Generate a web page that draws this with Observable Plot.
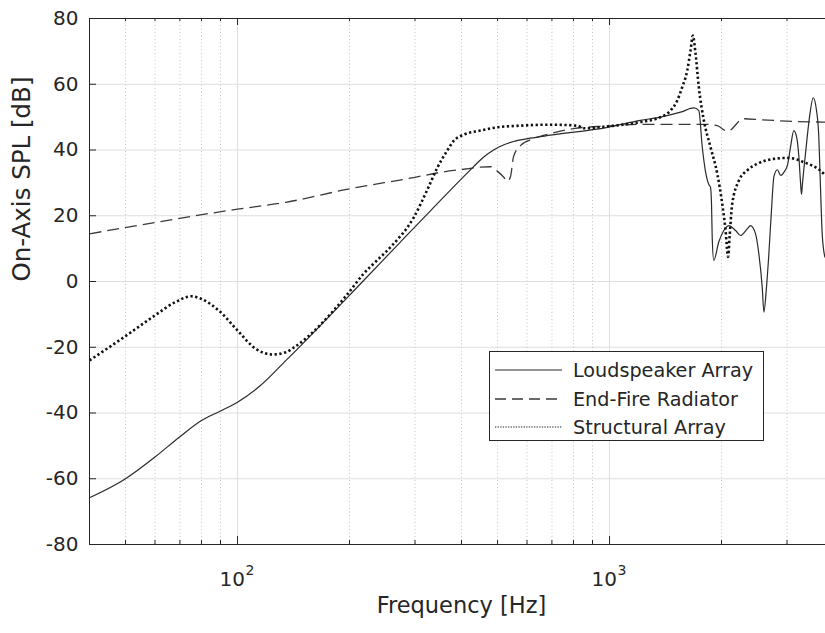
<!DOCTYPE html>
<html><head><meta charset="utf-8">
<script src="https://cdn.jsdelivr.net/npm/d3@7"></script>
<script src="https://cdn.jsdelivr.net/npm/@observablehq/plot@0.6"></script>
<style>
body{margin:0;background:#fff;}
#wrap{position:relative;width:825px;height:633px;overflow:hidden;background:#fff;font-family:"DejaVu Sans",sans-serif;}
#wrap svg.chart{max-width:none !important;}
#legend{position:absolute;left:489px;top:351px;}
</style></head><body><div id="wrap"></div>
<script>
// ---- data ----
const seriesNames = ["Loudspeaker Array", "End-Fire Radiator", "Structural Array"];

const lsFreq = [40,50,60,70,80,90,100,114,135,217,274,330,430,458,488,520,552,613,694,988,1211,1371,1552,1686,1738,1775,1811,1849,1868,1880,1888,1906,1966,2029,2093,2182,2250,2345,2393,2469,2520,2573,2600,2642,2681,2721,2767,2825,2884,2954,3010,3067,3128,3183,3228,3262,3281,3302,3364,3448,3528,3601,3652,3680,3732,3793];
const lsSPL  = [-65.8,-60.0,-53.4,-47.2,-42.3,-39.4,-36.7,-32.1,-24.0,0,12,21.5,34.8,37.8,40.0,41.6,42.6,43.6,44.5,46.9,49,50,51.5,52.8,52,41,33.5,29.5,28.7,23.6,13.5,6.4,12,15.5,17,15.5,14,16,17,14.5,8.4,-1.7,-9.3,-1.7,8.4,20.6,32,34,32.3,33.5,35.5,41,45.9,44,38,30,26.5,30,39,50,55.9,52,44,33,14,7.4];

const efFreq = [40,100,135,200,300,351,423,450,479,500,519,532,542,552,577,625,694,800,988,1211,1827,1948,2076,2292,2547,3760,3800];
const efSPL  = [14.5,22,24.1,28.2,31.7,33.2,34.4,34.8,34.9,33.5,31.8,30.5,32,38,41.4,43.5,45,46.5,47.3,47.8,47.8,47.4,45.7,49.5,49.2,48.5,48.5];

const stFreq = [40,50,60,68,75,80,89,100,112,124,135,142,197,218,237,258,298,324,344,366,382,406,450,499,576,694,819,853,988,1211,1371,1459,1520,1568,1618,1651,1675,1703,1738,1793,1868,1948,2009,2051,2083,2102,2137,2227,2345,2495,2761,3005,3327,3764,3800];
const stSPL  = [-24,-16.6,-10.3,-6.3,-4.5,-5.3,-8.8,-14.9,-20.5,-22.2,-21.5,-20,-4,2.3,6.4,10.5,19.6,28,34.5,39.8,42.9,44.7,45.9,46.9,47.4,47.7,47.4,46.6,47.2,48.5,50,52,55,59.1,64.2,70.3,74.8,69.3,59.1,49,40.9,32.8,23.6,15.5,7.5,13.5,23.6,30.7,33.8,35.8,37.3,37.6,36.3,32.8,32.3];

const xMajor = [100, 1000];
const xMajorBase = "10";
const xMajorExp = ["2", "3"];
const xMinor = [50,60,70,80,90,200,300,400,500,600,700,800,900,2000,3000];
const yTicks = [-80,-60,-40,-20,0,20,40,60,80];
const xDomain = [40, 4000];
const yDomain = [-80, 80];
const xLabel = "Frequency [Hz]";
const yLabel = "On-Axis SPL [dB]";

// ---- layout / style ----
const W = 834, H = 633, mL = 89, mT = 18, mB = 89, mR = 1;
const innerW = W - mL - mR, innerH = H - mT - mB;
const ink = "#262626";
const font = "'DejaVu Sans', sans-serif";

const toRows = (fs, vs) => fs.map((f, i) => ({f, v: vs[i]}));
const ls = toRows(lsFreq, lsSPL);
const ef = toRows(efFreq, efSPL);
const st = toRows(stFreq, stSPL);

const styles = {
  solid: {stroke: "#2a2a2a", strokeWidth: 1.2},
  dashed: {stroke: "#3a3a3a", strokeWidth: 1.3, strokeDasharray: "12,6", strokeLinecap: "butt"},
  dotted: {stroke: "#111", strokeWidth: 2.6, strokeDasharray: "2.3,2.5", strokeLinecap: "butt"}
};

const plot = Plot.plot({
  width: W, height: H,
  marginLeft: mL, marginTop: mT, marginBottom: mB, marginRight: mR,
  className: "chart",
  style: {fontFamily: font, fontSize: "20px", color: ink, background: "#fff", maxWidth: "none"},
  x: {type: "log", domain: xDomain, axis: null},
  y: {domain: yDomain, axis: null},
  marks: [
    Plot.ruleY(yTicks.slice(1, -1), {stroke: "#dedede", strokeWidth: 1}),
    Plot.ruleX(xMinor, {stroke: "#c4c4c4", strokeWidth: 1, strokeDasharray: "1,2.5"}),
    Plot.ruleX(xMajor, {stroke: "#dedede", strokeWidth: 1}),
    Plot.line(ef, {x: "f", y: "v", curve: "monotone-x", ...styles.dashed}),
    Plot.line(ls, {x: "f", y: "v", curve: "monotone-x", ...styles.solid}),
    Plot.line(st, {x: "f", y: "v", curve: "monotone-x", ...styles.dotted}),
    Plot.frame({stroke: ink, strokeWidth: 1}),
    // inward tick marks (bottom & top, left)
    Plot.ruleX(xMajor, {stroke: ink, insetTop: innerH - 8}),
    Plot.ruleX(xMinor, {stroke: ink, insetTop: innerH - 4}),
    Plot.ruleX(xMajor, {stroke: ink, insetBottom: innerH - 7}),
    Plot.ruleX(xMinor, {stroke: ink, insetBottom: innerH - 3}),
    Plot.ruleY(yTicks, {stroke: ink, insetRight: innerW - 7}),
    Plot.axisY(yTicks, {tickSize: 0, tickPadding: 11, label: null, fontSize: 20, fill: ink,
      tickFormat: d => String(d)}),
    Plot.text([xLabel], {text: d => d, frameAnchor: "bottom", dy: 68, fontSize: 22.5, fill: ink}),
    Plot.text([yLabel], {text: d => d, frameAnchor: "left", rotate: -90, dx: -67, fontSize: 24.5, fill: ink})
  ]
});
plot.style.maxWidth = "none";

const wrap = document.getElementById("wrap");
wrap.appendChild(plot);

// x tick labels "10^n" with a real superscript, placed with Plot's own x scale
const xs = plot.scale("x");
const svg = d3.select(plot);
xMajor.forEach((v, i) => {
  const t = svg.append("text")
    .attr("x", xs.apply(v)).attr("y", H - mB + 42)
    .attr("text-anchor", "middle")
    .attr("font-family", font).attr("font-size", 20).attr("fill", ink);
  t.append("tspan").text(xMajorBase);
  t.append("tspan").attr("font-size", 14).attr("dy", -11).attr("dx", 0.5).text(xMajorExp[i]);
});

// ---- legend ----
const lg = d3.select(wrap).append("svg").attr("id", "legend")
  .attr("width", 276).attr("height", 91);
lg.append("rect").attr("x", 0.5).attr("y", 0.5).attr("width", 274).attr("height", 89)
  .attr("fill", "#fff").attr("stroke", ink).attr("stroke-width", 1);
const legendStyles = [
  {stroke: "#2a2a2a", width: 1.2, dash: null},
  {stroke: "#3a3a3a", width: 1.3, dash: "11,6"},
  {stroke: "#222", width: 1.2, dash: "1.3,1.3"}
];
const rowY = [19, 48, 76];
seriesNames.forEach((name, i) => {
  const s = legendStyles[i];
  const l = lg.append("line").attr("x1", 6).attr("x2", 73).attr("y1", rowY[i]).attr("y2", rowY[i])
    .attr("stroke", s.stroke).attr("stroke-width", s.width);
  if (s.dash) l.attr("stroke-dasharray", s.dash);
  lg.append("text").attr("x", 84).attr("y", rowY[i]).attr("dy", "0.36em")
    .attr("font-family", font).attr("font-size", 19.2).attr("fill", ink).text(name);
});
</script>
</body></html>
